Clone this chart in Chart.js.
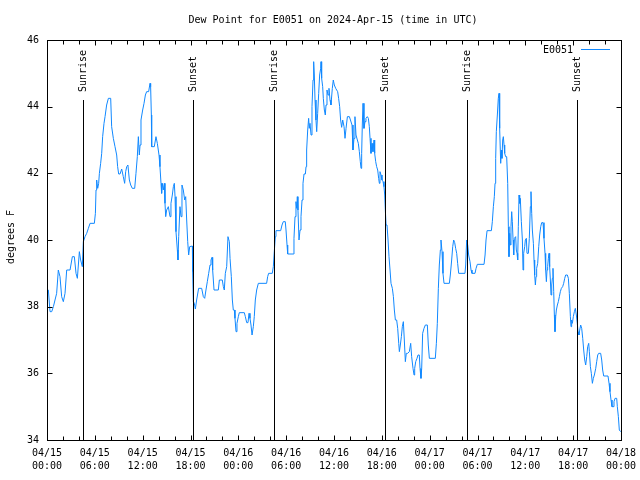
<!DOCTYPE html>
<html>
<head>
<meta charset="utf-8">
<script src="https://cdn.jsdelivr.net/npm/chart.js@4.4.1/dist/chart.umd.min.js"></script>
<style>
  html, body { margin: 0; padding: 0; background: #ffffff; }
  canvas { display: block; }
</style>
</head>
<body>
<canvas id="dewChart" width="640" height="480"></canvas>
<script>
// hours since 04/15 00:00 UTC, one pair of arrays per stretch
const hoursA = [
  0.05, 0.17, 0.38, 0.59, 0.8, 1.21, 1.42, 1.63, 1.84, 2.05,
  2.26, 2.47, 2.89, 3.18, 3.43, 3.64, 3.81, 4.06, 4.22, 4.43,
  4.56, 4.77, 4.98, 5.19, 5.4, 5.94, 6.07, 6.15, 6.23, 6.36,
  6.48, 6.57, 6.73, 6.86, 6.98, 7.15, 7.28, 7.48, 7.7, 7.99,
  8.11, 8.32, 8.53, 8.74, 8.86, 8.99, 9.16, 9.37, 9.57, 9.74,
  9.87, 10.0, 10.15, 10.33, 10.5, 10.7, 11.0, 11.16, 11.33, 11.46,
  11.58, 11.67, 11.79, 12.0, 12.17, 12.34, 12.5, 12.75, 12.92, 13.0,
  13.09, 13.13, 13.46, 13.67, 13.84, 14.05, 14.17, 14.3, 14.38, 14.47,
  14.59, 14.72, 14.8, 14.89, 15.01, 15.22, 15.43, 15.55, 15.72, 15.85,
  15.97, 16.06, 16.18, 16.35, 16.43, 16.52, 16.68, 16.81, 16.93, 17.1,
  17.27, 17.4, 17.52, 17.65, 17.77, 17.9, 18.23, 18.27, 18.36, 18.48,
  18.61, 18.77, 19.02
];
const dewA = [
  38.5, 38.5, 37.85, 37.85, 38.0, 38.4, 39.1, 38.9, 38.3, 38.15,
  38.4, 39.1, 39.1, 39.5, 39.5, 39.0, 38.85, 39.65, 39.4, 39.2,
  39.95, 40.1, 40.2, 40.35, 40.5, 40.5, 40.8, 41.5, 41.8, 41.55,
  41.7, 42.0, 42.3, 42.6, 43.1, 43.5, 43.7, 44.05, 44.25, 44.25,
  43.4, 43.05, 42.8, 42.55, 42.2, 41.98, 41.98, 42.13, 41.9, 41.7,
  42.05, 42.2, 42.25, 41.8, 41.65, 41.55, 41.55, 42.0, 42.5, 43.1,
  42.55, 42.85, 43.6, 43.9, 44.1, 44.35, 44.45, 44.45, 44.7, 44.6,
  43.75, 42.8, 42.8, 43.1, 42.9, 42.55, 42.2, 41.7, 41.4, 41.7,
  41.5, 41.7, 41.1, 40.7, 40.9, 41.0, 40.7, 41.1, 41.35, 41.6,
  41.7, 41.3, 40.25, 39.7, 39.4, 40.1, 41.0, 40.7, 41.65, 41.5,
  41.2, 41.3, 40.6, 39.95, 39.55, 39.8, 39.82, 39.05, 38.15, 38.1,
  37.93, 38.2, 38.55
];

const hoursB = [
  19.4, 19.61, 19.78, 19.94, 20.11, 20.28, 20.45, 20.57, 20.7, 20.78,
  20.95, 21.49, 21.62, 21.99, 22.12, 22.24, 22.37, 22.54, 22.7, 22.87,
  22.96, 23.12, 23.25, 23.37, 23.5, 23.58, 23.71, 23.83, 24.0, 24.12,
  24.75, 24.88, 25.05, 25.21, 25.34, 25.46, 25.59, 25.72, 25.88, 26.0,
  26.13, 26.3, 26.51, 27.55, 27.68, 27.8, 28.26, 28.39, 28.51, 28.64,
  28.72, 29.31, 29.48, 29.64, 29.89, 29.98, 30.11, 30.19, 30.9, 30.98,
  31.11, 31.23, 31.32, 31.4, 31.48, 31.61, 31.74, 31.86, 31.99, 32.11,
  32.24, 32.41, 32.49, 32.57, 32.7, 32.82, 32.9, 32.99, 33.12, 33.24,
  33.37, 33.45, 33.53, 33.62, 33.74, 33.83, 33.95, 34.08, 34.2, 34.33,
  34.37, 34.45, 34.58, 34.66, 34.79, 34.91, 35.0, 35.12, 35.25, 35.37,
  35.5, 35.62, 35.79, 35.91, 36.04, 36.21, 36.46, 36.58, 36.71, 36.83,
  36.96, 37.09, 37.26, 37.38, 37.51, 37.68, 37.93
];
const dewB = [
  38.55, 38.3, 38.25, 38.5, 38.75, 39.0, 39.25, 39.4, 39.48, 39.1,
  38.5, 38.5, 38.8, 38.8, 38.6, 38.5, 39.0, 39.2, 40.1, 39.95,
  39.45, 38.9, 38.2, 37.9, 37.9, 37.65, 37.25, 37.5, 37.7, 37.82,
  37.82, 37.7, 37.52, 37.52, 37.8, 37.65, 37.45, 37.15, 37.4, 37.7,
  38.2, 38.5, 38.7, 38.7, 38.9, 39.0, 39.0, 39.2, 39.65, 40.1,
  40.28, 40.28, 40.45, 40.55, 40.55, 40.3, 39.85, 39.58, 39.58, 40.05,
  40.7, 41.15, 40.95, 41.3, 40.9, 40.0, 40.3, 40.7, 41.2, 41.7,
  41.98, 41.98, 42.2, 42.7, 43.3, 43.65, 43.35, 43.5, 43.15, 44.0,
  44.8, 45.35, 44.95, 44.2, 43.6, 43.25, 43.8, 44.4, 44.95, 45.15,
  45.35, 44.85, 44.6, 44.25, 43.9, 43.75, 44.05, 44.5, 44.35, 44.55,
  44.2, 44.05, 44.55, 44.8, 44.65, 44.55, 44.45, 44.25, 44.0, 43.6,
  43.38, 43.6, 43.4, 43.05, 43.35, 43.7, 43.7
];

const hoursC = [
  38.26, 38.38, 38.51, 38.63, 38.76, 38.93, 39.05, 39.18, 39.3, 39.39,
  39.47, 39.55, 39.64, 39.76, 39.89, 40.01, 40.18, 40.31, 40.43, 40.52,
  40.64, 40.77, 40.89, 41.02, 41.1, 41.23, 41.35, 41.48, 41.6, 41.69,
  41.77, 41.9, 42.02, 42.15, 42.27, 42.36, 42.44, 42.53, 42.65, 42.78,
  42.9, 43.03, 43.15, 43.32, 43.45, 43.57, 43.7, 43.86, 43.99, 44.12,
  44.2, 44.32, 44.45, 44.57, 44.7, 44.82, 44.95, 45.07, 45.24, 45.45,
  45.62, 45.74, 45.91, 46.04, 46.12, 46.25, 46.41, 46.54, 46.7, 46.79,
  46.91, 47.0, 47.12, 47.29, 47.46, 47.71, 47.83, 47.96, 48.71, 48.84,
  48.96, 49.09, 49.21, 49.34, 49.42, 49.55, 49.67, 49.8, 50.47, 50.59,
  50.76, 50.89, 51.01, 51.14, 51.26, 51.39, 51.51, 51.64, 52.43, 52.52,
  52.64, 52.77, 52.89, 53.06, 53.19, 53.31, 53.69, 53.82, 53.98, 54.82,
  54.95, 55.07, 55.2
];
const dewC = [
  43.45, 42.7, 43.05, 43.7, 43.15, 43.0, 42.9, 42.65, 42.35, 42.15,
  42.6, 43.45, 44.1, 43.35, 43.55, 43.65, 43.7, 43.65, 43.4, 43.05,
  42.6, 42.9, 42.65, 43.0, 42.6, 42.35, 42.2, 42.1, 41.85, 41.7,
  42.05, 41.95, 41.8, 41.75, 41.6, 41.35, 40.9, 40.45, 40.45, 40.0,
  39.5, 39.1, 38.7, 38.55, 38.3, 37.9, 37.6, 37.6, 37.35, 36.9,
  36.65, 36.85, 37.1, 37.4, 37.55, 37.0, 36.35, 36.6, 36.6, 36.65,
  36.9, 36.5, 36.15, 35.95, 36.15, 36.35, 36.45, 36.55, 36.55, 36.15,
  35.85, 36.15, 37.2, 37.35, 37.45, 37.45, 36.85, 36.45, 36.45, 36.9,
  37.5, 38.55, 39.25, 39.7, 40.0, 39.65, 39.0, 38.7, 38.7, 38.95,
  39.4, 39.8, 40.0, 39.92, 39.75, 39.6, 39.3, 39.0, 39.0, 39.25,
  40.0, 39.85, 39.55, 39.35, 39.1, 39.0, 39.0, 39.15, 39.27, 39.27,
  39.55, 40.0, 40.28
];

const hoursD = [
  55.74, 55.86, 55.99, 56.11, 56.2, 56.28, 56.36, 56.49, 56.61, 56.7,
  56.74, 56.82, 56.91, 56.99, 57.07, 57.16, 57.24, 57.33, 57.41, 57.53,
  57.66, 57.79, 57.87, 57.95, 58.04, 58.12, 58.2, 58.29, 58.37, 58.46,
  58.54, 58.62, 58.79, 58.87, 58.96, 59.04, 59.12, 59.21, 59.29, 59.37,
  59.5, 59.63, 59.71, 59.79, 59.92, 60.0, 60.13, 60.21, 60.38, 60.5,
  60.63, 60.71, 60.8, 60.88, 61.01, 61.09, 61.17, 61.26, 61.34, 61.42,
  61.55, 61.68, 61.8, 61.93, 62.05, 62.22, 62.34, 62.47, 62.55, 62.64,
  62.72, 62.8, 62.89, 62.97, 63.05, 63.14, 63.22, 63.31, 63.39, 63.47,
  63.56, 63.64, 63.72, 63.81, 63.89, 64.02, 64.14, 64.27, 64.39, 64.52,
  64.68, 64.81, 64.94, 65.06, 65.27, 65.4, 65.52, 65.65, 65.73, 65.81,
  65.9, 66.02, 66.15, 66.27, 66.4, 66.52, 66.61, 66.73, 66.82, 66.94,
  67.07, 67.2, 67.32, 67.45, 67.57, 67.7, 67.82, 67.95, 68.03, 68.16,
  68.28, 68.41, 68.53, 68.66, 68.83, 68.95, 69.08, 69.2, 69.45, 69.58,
  69.7, 69.83, 70.37, 70.5, 70.62, 70.75, 70.87, 71.0, 71.12, 71.25,
  71.46, 71.54, 71.67, 71.79, 71.96
];
const dewD = [
  40.28, 40.55, 41.0, 41.3, 41.7, 42.45, 43.25, 43.75, 44.25, 44.4,
  43.9, 43.35, 42.3, 42.7, 42.45, 43.0, 43.1, 42.85, 42.6, 42.5,
  42.5, 41.7, 40.4, 39.5, 40.2, 39.85, 40.4, 40.85, 40.55, 40.0,
  39.55, 40.05, 40.1, 39.7, 39.6, 39.4, 40.4, 41.35, 41.1, 41.25,
  40.55, 40.0, 39.1, 39.6, 39.8, 40.0, 40.05, 39.6, 39.6, 40.05,
  41.0, 41.45, 40.8, 40.3, 39.9, 39.4, 38.95, 38.65, 38.9, 39.15,
  39.3, 39.8, 40.15, 40.4, 40.52, 40.52, 40.05, 39.6, 39.1, 38.75,
  39.1, 39.2, 39.45, 39.6, 39.2, 38.8, 38.35, 38.65, 38.85, 39.15,
  38.45, 37.75, 37.25, 37.7, 37.9, 38.05, 38.15, 38.3, 38.45, 38.55,
  38.6, 38.7, 38.85, 38.95, 38.95, 38.85, 38.4, 37.7, 37.4, 37.6,
  37.5, 37.7, 37.85, 37.95, 37.75, 37.5, 37.25, 37.15, 37.3, 37.45,
  37.35, 37.05, 36.7, 36.4, 36.25, 36.5, 36.8, 36.9, 36.65, 36.2,
  36.0, 35.7, 35.85, 35.95, 36.15, 36.35, 36.55, 36.6, 36.6, 36.4,
  36.1, 35.92, 35.92, 35.7, 35.45, 35.2, 35.0, 35.0, 35.15, 35.25,
  35.25, 35.0, 34.7, 34.3, 34.25
];

// sunrise / sunset markers (hours since start)
const sunHours = [4.55, 18.35, 28.51, 42.44, 52.65, 66.52];
const sunLabels = ['Sunrise', 'Sunset', 'Sunrise', 'Sunset', 'Sunrise', 'Sunset'];

// x tick labels, one per 6 hours
const tickDates = ['04/15', '04/15', '04/15', '04/15', '04/16', '04/16', '04/16', '04/16', '04/17', '04/17', '04/17', '04/17', '04/18'];
const tickTimes = ['00:00', '06:00', '12:00', '18:00', '00:00', '06:00', '12:00', '18:00', '00:00', '06:00', '12:00', '18:00', '00:00'];
const yTicks = [34, 36, 38, 40, 42, 44, 46];

const FONT = '10px "DejaVu Sans Mono", "Liberation Mono", monospace';
const LINE_COLOR = '#1088ff';

const allHours = hoursA.concat(hoursB, hoursC, hoursD);
const allDew = dewA.concat(dewB, dewC, dewD);
const points = allHours.map((h, i) => ({ x: h, y: allDew[i] }));

// gnuplot-like frame, inward ticks, sun markers, title, legend
const gnuplotDecor = {
  id: 'gnuplotDecor',
  afterDatasetsDraw(chart) {
    const ctx = chart.ctx;
    const area = chart.chartArea;
    const xs = chart.scales.x;
    const ys = chart.scales.y;
    const L = Math.round(area.left) + 0.5;
    const R = Math.round(area.right) + 0.5;
    const T = Math.round(area.top) + 0.5;
    const B = Math.round(area.bottom) + 0.5;

    ctx.save();
    ctx.strokeStyle = '#000000';
    ctx.lineWidth = 1;

    // sunrise / sunset lines
    ctx.font = FONT;
    ctx.fillStyle = '#000000';
    sunHours.forEach((h, i) => {
      const px = Math.round(xs.getPixelForValue(h)) + 0.5;
      ctx.beginPath();
      ctx.moveTo(px, 100);
      ctx.lineTo(px, B);
      ctx.stroke();
      ctx.save();
      ctx.translate(px, 92);
      ctx.rotate(-Math.PI / 2);
      ctx.textAlign = 'left';
      ctx.textBaseline = 'middle';
      ctx.fillText(sunLabels[i], 0, 0);
      ctx.restore();
    });

    // frame
    ctx.strokeRect(L, T, R - L, B - T);

    // y ticks, both sides
    ctx.beginPath();
    yTicks.forEach(v => {
      const py = Math.round(ys.getPixelForValue(v)) + 0.5;
      ctx.moveTo(L, py); ctx.lineTo(L + 5, py);
      ctx.moveTo(R, py); ctx.lineTo(R - 5, py);
    });
    // x ticks every 2 hours, top and bottom
    for (let h = 0; h <= 72; h += 2) {
      const px = Math.round(xs.getPixelForValue(h)) + 0.5;
      const len = h % 6 === 0 ? 5 : 4;
      ctx.moveTo(px, B); ctx.lineTo(px, B - len);
      ctx.moveTo(px, T); ctx.lineTo(px, T + len);
    }
    ctx.stroke();

    // title
    ctx.textAlign = 'center';
    ctx.textBaseline = 'middle';
    ctx.fillText('Dew Point for E0051 on 2024-Apr-15 (time in UTC)', 333, 20);

    // y axis title
    ctx.save();
    ctx.translate(11, 237);
    ctx.rotate(-Math.PI / 2);
    ctx.fillText('degrees F', 0, 0);
    ctx.restore();

    // legend
    ctx.textAlign = 'right';
    ctx.fillText('E0051', 573, 50);
    ctx.strokeStyle = LINE_COLOR;
    ctx.beginPath();
    ctx.moveTo(581, 49.5);
    ctx.lineTo(610, 49.5);
    ctx.stroke();

    ctx.restore();
  }
};

new Chart(document.getElementById('dewChart'), {
  type: 'line',
  data: {
    datasets: [{
      label: 'E0051',
      data: points,
      borderColor: LINE_COLOR,
      borderWidth: 1,
      pointRadius: 0,
      tension: 0,
      fill: false
    }]
  },
  options: {
    responsive: false,
    animation: false,
    events: [],
    layout: { padding: { top: 40, right: 19, left: 0, bottom: 0 } },
    plugins: {
      legend: { display: false },
      title: { display: false },
      tooltip: { enabled: false }
    },
    scales: {
      x: {
        type: 'linear',
        min: 0,
        max: 72,
        grid: { display: false, drawTicks: false },
        border: { display: false },
        afterFit: (scale) => {
          scale.height = 40;
          scale.paddingLeft = 0;
          scale.paddingRight = 0;
        },
        afterBuildTicks: (scale) => {
          scale.ticks = tickDates.map((d, i) => ({ value: i * 6 }));
        },
        ticks: {
          autoSkip: false,
          maxRotation: 0,
          padding: 7,
          color: '#000000',
          font: { family: '"DejaVu Sans Mono", "Liberation Mono", monospace', size: 10, lineHeight: '13px' },
          callback: (value) => {
            const i = Math.round(value / 6);
            return [tickDates[i], tickTimes[i]];
          }
        }
      },
      y: {
        min: 34,
        max: 46,
        grid: { display: false, drawTicks: false },
        border: { display: false },
        afterFit: (scale) => {
          scale.width = 47;
          scale.paddingTop = 0;
          scale.paddingBottom = 0;
        },
        afterBuildTicks: (scale) => {
          scale.ticks = yTicks.map(v => ({ value: v }));
        },
        ticks: {
          padding: 8,
          color: '#000000',
          font: { family: '"DejaVu Sans Mono", "Liberation Mono", monospace', size: 10 }
        }
      }
    }
  },
  plugins: [gnuplotDecor]
});
</script>
</body>
</html>
